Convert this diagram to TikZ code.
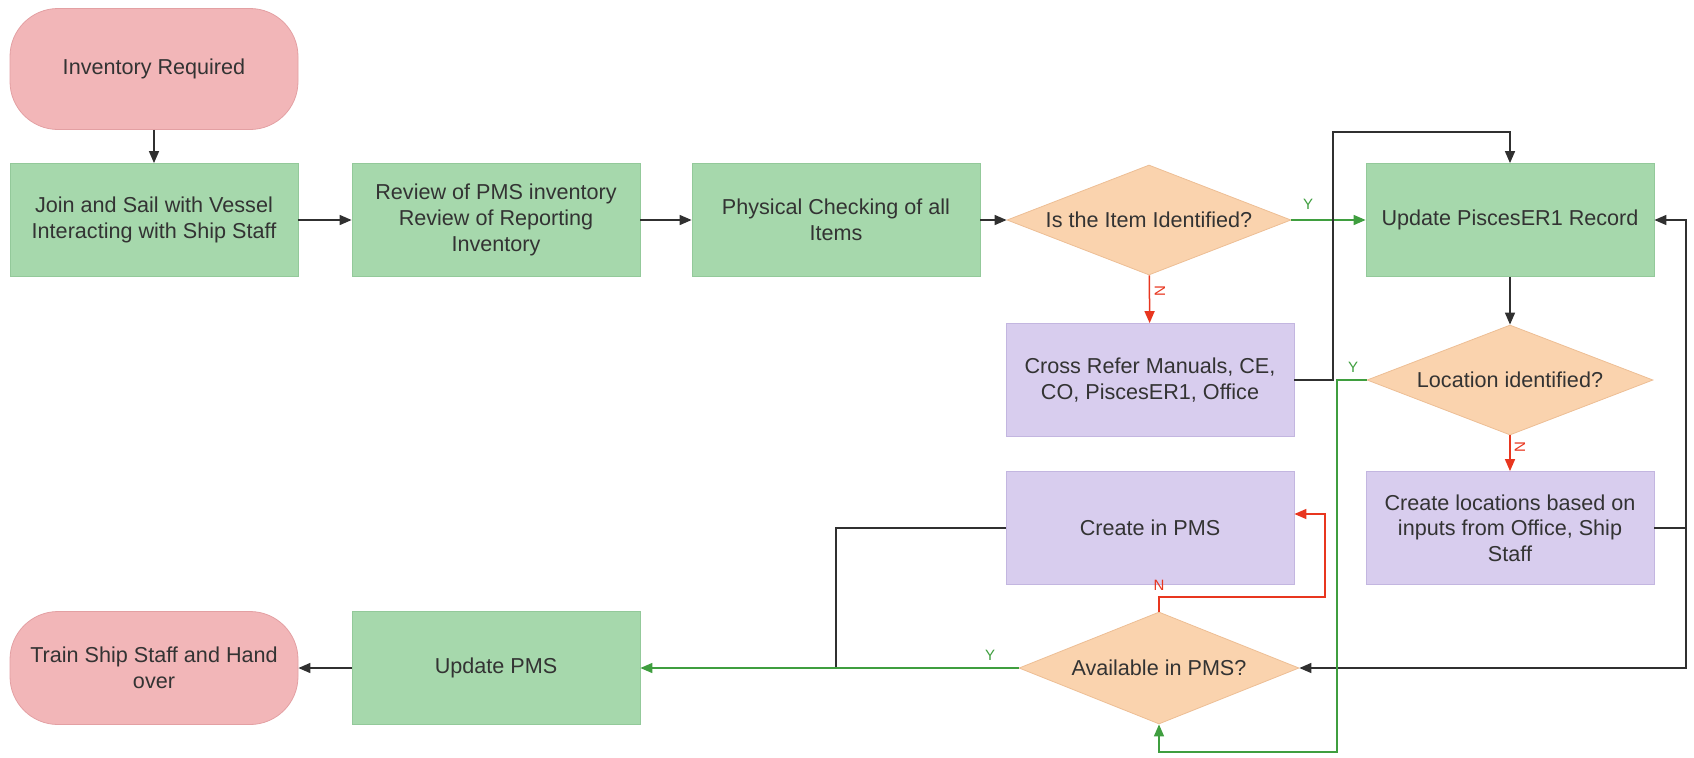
\documentclass[tikz,border=0pt]{standalone}
\usepackage{fontspec}
\setmainfont{Liberation Sans}
\usepackage{tikz}
\usetikzlibrary{shapes.geometric, arrows.meta}
\tikzset{>={Triangle[length=6pt,width=5pt]}}
\usepackage{xcolor}
\definecolor{mytext}{HTML}{333333}
\definecolor{myline}{HTML}{303030}
\definecolor{mygreen}{HTML}{3F9E3F}
\definecolor{myred}{HTML}{E8361F}
\definecolor{boxgreen}{HTML}{A6D8AC}
\definecolor{boxgreenline}{HTML}{93C99A}
\definecolor{boxpink}{HTML}{F2B6B8}
\definecolor{boxpinkline}{HTML}{E3A0A3}
\definecolor{boxpurple}{HTML}{D8CDEE}
\definecolor{boxpurpleline}{HTML}{C3B6E0}
\definecolor{boxorange}{HTML}{FAD3AE}
\definecolor{boxorangeline}{HTML}{EDBE95}

\begin{document}
\begin{tikzpicture}[x=0.5pt, y=-0.5pt, font=\fontsize{10.8}{12.8}\selectfont,
		every node/.style={text=mytext},
		stepbox/.style={draw=boxgreenline, fill=boxgreen, minimum width=144pt, minimum height=56.5pt, align=center, inner sep=2pt},
		actbox/.style={stepbox, draw=boxpurpleline, fill=boxpurple},
		endbox/.style={stepbox, draw=boxpinkline, fill=boxpink, rounded corners=24pt},
		ask/.style={diamond, draw=boxorangeline, fill=boxorange, minimum width=142pt, minimum height=55pt, aspect=2.6, inner sep=0pt, align=center},
		lbl/.style={font=\fontsize{7.5}{9}\selectfont, inner sep=1pt},
		flow/.style={->, line width=0.75pt, myline}]
	\useasboundingbox (0,0) rectangle (1694,757);
	% nodes
	\node[endbox, minimum height=60.5pt] (inv) at (154,69) {Inventory Required};
	\node[stepbox] (join) at (154,220) {Join and Sail with Vessel\\Interacting with Ship Staff};
	\node[stepbox] (review) at (496,220) {Review of PMS inventory\\Review of Reporting\\Inventory};
	\node[stepbox] (phys) at (836,220) {Physical Checking of all\\Items};
	\node[ask] (isid) at (1149,220) {Is the Item Identified?};
	\node[stepbox] (upd) at (1510,220) {Update PiscesER1 Record};
	\node[actbox] (cross) at (1150,380) {Cross Refer Manuals, CE,\\CO, PiscesER1, Office};
	\node[ask, minimum width=143pt, minimum height=55pt] (loc) at (1510,380) {Location identified?};
	\node[actbox] (cloc) at (1510,528) {Create locations based on\\inputs from Office, Ship\\Staff};
	\node[actbox] (cpms) at (1150,528) {Create in PMS};
	\node[ask, minimum width=140pt, minimum height=56pt] (avail) at (1159,668) {Available in PMS?};
	\node[stepbox] (upms) at (496,668) {Update PMS};
	\node[endbox] (train) at (154,668) {Train Ship Staff and Hand\\over};
	% helper points
	\coordinate (topturn) at (1333,132);
	\coordinate (rtop) at (1686,220);
	\coordinate (rbot) at (1686,668);
	\coordinate (gbot) at (1337,752);
	\coordinate (rturn) at (1325,597);
	\coordinate (ljoin) at (836,668);
	% connectors
	\draw[flow] (inv) -- (join);
	\draw[flow] (join) -- (review);
	\draw[flow] (review) -- (phys);
	\draw[flow] (phys) -- (isid);
	\draw[flow, mygreen] (isid) -- (upd);
	\draw[flow, myred] (isid) -- (cross);
	\draw[flow] (cross.east) -| (topturn) -| (upd.north);
	\draw[flow] (upd) -- (loc);
	\draw[flow, myred] (loc) -- (cloc);
	\draw[flow] (cloc.east) -| (rtop) -- (upd.east);
	\draw[flow] (cloc.east) -| (rbot) -- (avail.east);
	\draw[flow, mygreen] (loc.west) -| (gbot) -| (avail.south);
	\draw[flow, myred] (avail.north) |- (rturn) |- ([yshift=7pt]cpms.east);
	\draw[line width=0.75pt, myline] (cpms.west) -| (ljoin);
	\draw[flow, mygreen] (avail.west) -- (upms.east);
	\draw[flow] (upms) -- (train);
	% branch labels
	\node[lbl, text=mygreen] (yisid) at (1308,204) {Y};
	\node[lbl, text=myred, rotate=90] (nisid) at (1160,291) {N};
	\node[lbl, text=mygreen] (yloc) at (1353,367) {Y};
	\node[lbl, text=myred, rotate=90] (nloc) at (1520,447) {N};
	\node[lbl, text=myred] (navail) at (1159,585) {N};
	\node[lbl, text=mygreen] (yavail) at (990,655) {Y};
\end{tikzpicture}
\end{document}
